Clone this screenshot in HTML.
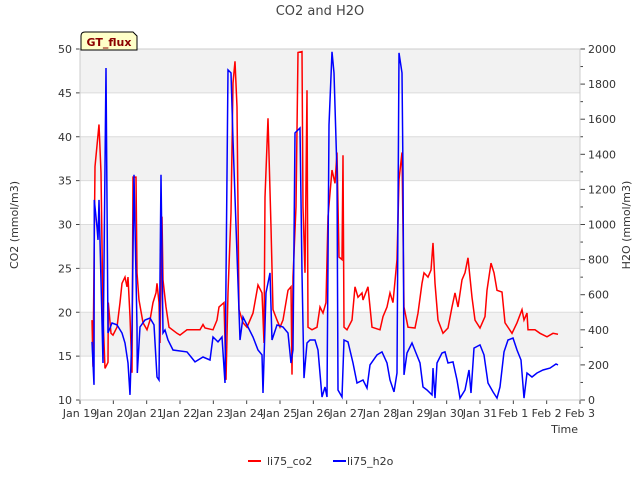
<!DOCTYPE html>
<html><head><meta charset="utf-8"><style>
body{margin:0;background:#fff;font-family:"DejaVu Sans","Liberation Sans",sans-serif;}
svg text{font-family:"DejaVu Sans","Liberation Sans",sans-serif;}
</style></head><body>
<svg id="chart" width="640" height="480" xmlns="http://www.w3.org/2000/svg">
<g id="bands"></g>
<g id="grid"></g>
<text x="320" y="15" text-anchor="middle" font-size="13" fill="#444">CO2 and H2O</text>
<text transform="translate(18,225) rotate(-90)" text-anchor="middle" font-size="11" fill="#333">CO2 (mmol/m3)</text>
<text transform="translate(630,225) rotate(-90)" text-anchor="middle" font-size="11" fill="#333">H2O (mmol/m3)</text>
<text x="578" y="433" text-anchor="end" font-size="11" fill="#333">Time</text>
<g id="axes"></g>
<g id="series"></g>
<g>
<path d="M81,50 L81,36 Q81,32 85,32 L133,32 L137,36 L137,50 Z" fill="#ffffc8" stroke="#000" stroke-width="1"/>
<text x="109" y="46" text-anchor="middle" font-size="11" font-weight="bold" fill="#8b0000">GT_flux</text>
</g>
<g>
<g><line x1="248" y1="461" x2="261" y2="461" stroke="#f00" stroke-width="2"/><text x="267" y="465" font-size="11" fill="#333">li75_co2</text></g>
<g><line x1="333" y1="461" x2="346" y2="461" stroke="#00f" stroke-width="2"/><text x="347" y="465" font-size="11" fill="#333">li75_h2o</text></g>
</g>
</svg>
<script>
const xLabels=["Jan 19","Jan 20","Jan 21","Jan 22","Jan 23","Jan 24","Jan 25","Jan 26","Jan 27","Jan 28","Jan 29","Jan 30","Jan 31","Feb 1","Feb 2","Feb 3"];
const leftTicks=[10,15,20,25,30,35,40,45,50];
const rightTicks=[0,200,400,600,800,1000,1200,1400,1600,1800,2000];
const co2Days=[0.36,0.39,0.45,0.57,0.63,0.69,0.75,0.84,0.85,0.93,0.99,1.11,1.20,1.26,1.35,1.41,1.44,1.50,1.56,1.59,1.68,1.71,1.77,1.89,2.01,2.10,2.19,2.28,2.31,2.37,2.40,2.46,2.49,2.58,2.67,2.91,3.00,3.21,3.60,3.69,3.75,3.99,4.11,4.17,4.32,4.38,4.44,4.53,4.59,4.65,4.71,4.77,4.89,5.01,5.19,5.34,5.46,5.52,5.55,5.64,5.73,5.79,5.91,6.00,6.09,6.24,6.33,6.36,6.39,6.48,6.54,6.66,6.69,6.75,6.81,6.84,6.96,7.11,7.20,7.29,7.38,7.44,7.56,7.65,7.71,7.77,7.86,7.89,7.92,8.01,8.16,8.25,8.34,8.46,8.49,8.64,8.76,9.00,9.09,9.21,9.30,9.39,9.51,9.57,9.66,9.72,9.84,10.05,10.14,10.26,10.32,10.44,10.53,10.59,10.65,10.74,10.89,11.04,11.16,11.25,11.34,11.46,11.55,11.64,11.76,11.85,12.00,12.15,12.21,12.33,12.42,12.51,12.66,12.75,12.96,13.11,13.26,13.32,13.41,13.44,13.65,13.80,14.01,14.19,14.34];
const co2Values=[19.1,13.8,36.6,41.4,35.9,19.5,13.6,14.3,21.1,17.6,17.4,18.3,21.1,23.3,24.0,22.9,24.0,19.5,13.1,35.4,35.4,24.5,21.4,18.8,18.0,19.1,21.1,22.2,23.3,21.1,16.5,30.9,23.7,20.6,18.3,17.6,17.4,18.0,18.0,18.6,18.2,18.0,19.1,20.6,21.1,12.3,22.2,31.3,46.1,48.6,43.4,20.3,18.8,18.3,19.9,23.1,22.2,16.5,33.1,42.1,29.7,20.3,19.1,18.3,19.1,22.5,22.9,12.9,24.0,32.0,49.6,49.7,32.0,24.5,45.3,18.3,18.0,18.3,20.6,19.9,21.1,30.9,36.2,34.7,38.2,26.3,26.0,37.9,18.3,18.0,19.1,22.9,21.7,22.2,21.4,22.9,18.3,18.0,19.5,20.6,22.2,21.1,26.0,35.1,38.2,20.6,18.3,18.2,19.9,23.3,24.5,24.0,24.8,27.9,23.3,19.1,17.6,18.2,20.6,22.2,20.6,23.7,24.5,26.2,21.7,19.1,18.2,19.5,22.5,25.6,24.5,22.5,22.3,18.8,17.6,18.8,20.3,19.1,19.9,18.0,18.0,17.6,17.2,17.6,17.5];
const h2oDays=[0.36,0.42,0.43,0.51,0.54,0.57,0.69,0.78,0.84,0.96,1.11,1.26,1.35,1.44,1.50,1.56,1.62,1.71,1.72,1.80,1.95,2.10,2.22,2.31,2.37,2.43,2.49,2.55,2.64,2.79,3.21,3.36,3.45,3.69,3.90,3.99,4.14,4.26,4.35,4.44,4.53,4.59,4.80,4.89,5.04,5.19,5.34,5.46,5.49,5.58,5.70,5.76,5.91,6.09,6.24,6.33,6.39,6.45,6.60,6.66,6.72,6.81,6.90,7.05,7.14,7.26,7.35,7.41,7.47,7.56,7.62,7.71,7.74,7.86,7.92,8.04,8.19,8.31,8.49,8.61,8.70,8.91,9.06,9.21,9.30,9.42,9.51,9.57,9.66,9.69,9.72,9.81,9.96,10.08,10.20,10.29,10.41,10.56,10.59,10.65,10.71,10.86,10.95,11.04,11.19,11.31,11.40,11.55,11.67,11.73,11.82,12.00,12.12,12.24,12.39,12.51,12.60,12.72,12.84,12.99,13.11,13.23,13.32,13.41,13.56,13.71,13.89,14.10,14.28,14.34];
const h2oValues=[331,86,1140,986,912,1140,211,1892,382,439,428,382,325,211,29,399,1283,416,154,416,456,467,428,131,114,1283,382,399,342,285,274,239,217,245,228,359,331,359,97,1881,1864,1482,342,473,416,359,285,257,40,610,724,342,428,416,382,211,285,1522,1550,724,125,325,342,342,285,17,74,17,1568,1984,1864,1294,57,17,342,331,211,97,114,68,200,257,274,211,114,46,154,1978,1864,1294,143,268,325,268,211,74,57,29,182,11,211,268,274,211,217,114,11,57,171,40,296,314,257,97,46,11,74,274,342,353,285,228,11,154,131,154,171,182,205,200];

const NS="http://www.w3.org/2000/svg";
const X0=80,X1=580,Y0=49,Y1=400;
const xs=d=>X0+d*(X1-X0)/15;
const yL=v=>Y1-(v-10)*(Y1-Y0)/40;
const yR=v=>Y1-v*(Y1-Y0)/2000;
function mk(tag,attrs,parent){const e=document.createElementNS(NS,tag);for(const k in attrs)e.setAttribute(k,attrs[k]);parent.appendChild(e);return e;}
const bands=document.getElementById('bands'),grid=document.getElementById('grid'),axes=document.getElementById('axes'),series=document.getElementById('series');
mk('rect',{x:X0,y:Y0,width:X1-X0,height:Y1-Y0,fill:'#fff'},bands);
for(let i=0;i<leftTicks.length-1;i++){
  if(i%2===1){const r=mk('rect',{x:X0,y:yL(leftTicks[i+1]),width:X1-X0,height:yL(leftTicks[i])-yL(leftTicks[i+1]),fill:'#f2f2f2'},bands);
  
  }
}
leftTicks.forEach(v=>{
  const l=mk('line',{x1:X0,x2:X1,y1:yL(v),y2:yL(v),stroke:'#dcdcdc','stroke-width':1},grid);
  
  
  mk('line',{x1:X0-4,x2:X0,y1:yL(v),y2:yL(v),stroke:'#444'},axes);
  const t=mk('text',{x:X0-8,y:yL(v)+4,'text-anchor':'end','font-size':11,fill:'#333'},axes);
  t.textContent=v;
  
  
});
rightTicks.forEach((v,i)=>{
  mk('line',{x1:X1,x2:X1+5,y1:yR(v),y2:yR(v),stroke:'#444'},axes);
  if(i<rightTicks.length-1)mk('line',{x1:X1,x2:X1+3,y1:yR(v+100),y2:yR(v+100),stroke:'#444'},axes);
  const t=mk('text',{x:X1+8,y:yR(v)+4,'font-size':11,fill:'#333'},axes);
  t.textContent=v;
  
  
});
xLabels.forEach((s,i)=>{
  mk('line',{x1:xs(i),x2:xs(i),y1:Y1,y2:Y1+4,stroke:'#444'},axes);
  const t=mk('text',{x:xs(i),y:Y1+17,'text-anchor':'middle','font-size':11,fill:'#333'},axes);
  t.textContent=s;
  
  
});
mk('rect',{x:X0,y:Y0,width:X1-X0,height:Y1-Y0,fill:'none',stroke:'#ccc'},axes);
const pc=mk('polyline',{points:co2Days.map((d,i)=>xs(d).toFixed(1)+','+yL(co2Values[i]).toFixed(1)).join(' '),fill:'none',stroke:'#f00','stroke-width':1.5},series);


const ph=mk('polyline',{points:h2oDays.map((d,i)=>xs(d).toFixed(1)+','+yR(h2oValues[i]).toFixed(1)).join(' '),fill:'none',stroke:'#00f','stroke-width':1.5},series);


</script>
</body></html>
